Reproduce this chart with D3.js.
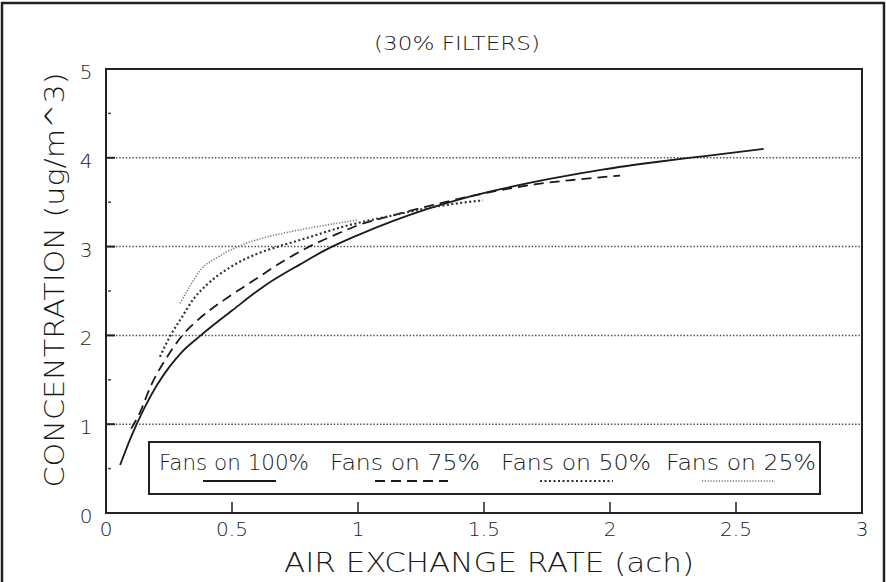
<!DOCTYPE html>
<html>
<head>
<meta charset="utf-8">
<script src="https://cdn.jsdelivr.net/npm/d3@7"></script>
<style>
  body { margin: 0; background: #fff; }
  text { font-family: "DejaVu Sans", sans-serif; font-weight: 200; fill: #1a1a1a; }
</style>
</head>
<body>
<script>
// tick values
var xTicks = [0, 0.5, 1, 1.5, 2, 2.5, 3];
var yTicks = [0, 1, 2, 3, 4, 5];
var yGrid = [1, 2, 3, 4];
var yMinor = [0.5, 1.5, 2.5, 3.5, 4.5];
var xInnerTicks = [0.5, 1, 1.5, 2, 2.5];

// series
var seriesNames = ["Fans on 100%", "Fans on 75%", "Fans on 50%", "Fans on 25%"];

var fans100X = [0.056, 0.1, 0.15, 0.2, 0.25, 0.3, 0.376, 0.45, 0.5, 0.63, 0.77, 0.87, 1.0, 1.14, 1.27, 1.4, 1.54, 1.776, 1.976, 2.176, 2.376, 2.61];
var fans100Y = [0.54, 0.86, 1.17, 1.43, 1.64, 1.81, 2.0, 2.17, 2.28, 2.56, 2.8, 2.96, 3.13, 3.29, 3.42, 3.53, 3.63, 3.77, 3.87, 3.95, 4.02, 4.10];

var fans75X = [0.10, 0.136, 0.176, 0.243, 0.303, 0.363, 0.469, 0.576, 0.7, 0.8, 0.923, 1.0, 1.136, 1.3, 1.5, 1.7, 1.85, 2.04];
var fans75Y = [0.95, 1.14, 1.42, 1.76, 2.0, 2.17, 2.4, 2.6, 2.83, 2.99, 3.15, 3.24, 3.35, 3.47, 3.6, 3.7, 3.75, 3.80];

var fans50X = [0.214, 0.256, 0.3, 0.35, 0.4, 0.5, 0.6, 0.683, 0.8, 0.936, 1.136, 1.27, 1.376, 1.496];
var fans50Y = [1.76, 2.0, 2.2, 2.42, 2.57, 2.78, 2.92, 3.0, 3.1, 3.22, 3.35, 3.43, 3.48, 3.52];

var fans25X = [0.294, 0.336, 0.376, 0.443, 0.5, 0.603, 0.736, 0.869, 1.0];
var fans25Y = [2.36, 2.57, 2.74, 2.88, 2.97, 3.08, 3.17, 3.24, 3.3];

var W = 886, H = 582;
var svg = d3.select("body").append("svg")
    .attr("width", W)
    .attr("height", H);

// outer frame (top, left, right)
svg.append("path")
    .attr("d", "M2,582 V3 H884 V582")
    .attr("fill", "none")
    .attr("stroke", "#222")
    .attr("stroke-width", 2.5);

var x = d3.scaleLinear().domain([0, 3]).range([106, 862]);
var y = d3.scaleLinear().domain([0, 5]).range([513, 69]);

// title
svg.append("text")
    .attr("x", 457)
    .attr("y", 50)
    .attr("text-anchor", "middle")
    .attr("textLength", 166)
    .attr("lengthAdjust", "spacingAndGlyphs")
    .style("font-size", "19px")
    .text("(30% FILTERS)");

// dotted grid lines
svg.append("g").selectAll("line")
    .data(yGrid)
    .enter()
    .append("line")
    .attr("x1", x(0))
    .attr("x2", x(3))
    .attr("y1", function (d) { return y(d); })
    .attr("y2", function (d) { return y(d); })
    .attr("stroke", "#555")
    .attr("stroke-width", 1.5)
    .attr("stroke-dasharray", "1.5,1.8");

// short solid ticks on left of each grid line
svg.append("g").selectAll("line")
    .data(yGrid)
    .enter()
    .append("line")
    .attr("x1", x(0))
    .attr("x2", x(0) + 9)
    .attr("y1", function (d) { return y(d); })
    .attr("y2", function (d) { return y(d); })
    .attr("stroke", "#222")
    .attr("stroke-width", 2);

// minor y ticks (little dots)
svg.append("g").selectAll("line")
    .data(yMinor)
    .enter()
    .append("line")
    .attr("x1", x(0) + 2)
    .attr("x2", x(0) + 5)
    .attr("y1", function (d) { return y(d); })
    .attr("y2", function (d) { return y(d); })
    .attr("stroke", "#444")
    .attr("stroke-width", 1.5);

// x ticks pointing up from the bottom
svg.append("g").selectAll("line")
    .data(xInnerTicks)
    .enter()
    .append("line")
    .attr("x1", function (d) { return x(d); })
    .attr("x2", function (d) { return x(d); })
    .attr("y1", y(0))
    .attr("y2", y(0) - 11)
    .attr("stroke", "#222")
    .attr("stroke-width", 1.5);

// plot frame
svg.append("rect")
    .attr("x", x(0))
    .attr("y", y(5))
    .attr("width", x(3) - x(0))
    .attr("height", y(0) - y(5))
    .attr("fill", "none")
    .attr("stroke", "#222")
    .attr("stroke-width", 2);

// tick labels
svg.append("g").selectAll("text")
    .data(xTicks)
    .enter()
    .append("text")
    .attr("x", function (d) { return x(d); })
    .attr("y", 536)
    .attr("text-anchor", "middle")
    .style("font-size", "20px")
    .text(function (d) { return d; });

svg.append("g").selectAll("text")
    .data(yTicks)
    .enter()
    .append("text")
    .attr("x", 86)
    .attr("y", function (d) { return y(d) + 10; })
    .attr("text-anchor", "middle")
    .style("font-size", "20px")
    .text(function (d) { return d; });

// axis titles
svg.append("text")
    .attr("x", 489)
    .attr("y", 572)
    .attr("text-anchor", "middle")
    .attr("textLength", 410)
    .attr("lengthAdjust", "spacingAndGlyphs")
    .style("font-size", "26px")
    .text("AIR EXCHANGE RATE (ach)");

svg.append("text")
    .attr("transform", "translate(64,280) rotate(-90)")
    .attr("text-anchor", "middle")
    .attr("textLength", 415)
    .attr("lengthAdjust", "spacingAndGlyphs")
    .style("font-size", "26px")
    .text("CONCENTRATION (ug/m^3)");

// curves
var styles = [
    { stroke: "#1a1a1a", width: 1.8, dash: null },
    { stroke: "#1a1a1a", width: 1.8, dash: "10,6" },
    { stroke: "#333", width: 2.2, dash: "2,2.5" },
    { stroke: "#777", width: 1.6, dash: "1.2,1.6" }
];
var seriesX = [fans100X, fans75X, fans50X, fans25X];
var seriesY = [fans100Y, fans75Y, fans50Y, fans25Y];

var line = d3.line()
    .x(function (d) { return x(d[0]); })
    .y(function (d) { return y(d[1]); })
    .curve(d3.curveMonotoneX);

seriesX.forEach(function (xs, i) {
    var pts = xs.map(function (v, j) { return [v, seriesY[i][j]]; });
    svg.append("path")
        .datum(pts)
        .attr("d", line)
        .attr("fill", "none")
        .attr("stroke", styles[i].stroke)
        .attr("stroke-width", styles[i].width)
        .attr("stroke-dasharray", styles[i].dash);
});

// legend
var legend = svg.append("g");
legend.append("rect")
    .attr("x", 149)
    .attr("y", 442)
    .attr("width", 671)
    .attr("height", 52)
    .attr("fill", "#fff")
    .attr("stroke", "#222")
    .attr("stroke-width", 2);

var textStart = [159, 330, 501, 666];
var sampleX = [203, 375, 540, 702];

seriesNames.forEach(function (name, i) {
    legend.append("text")
        .attr("x", textStart[i])
        .attr("y", 470)
        .attr("textLength", 150)
        .attr("lengthAdjust", "spacingAndGlyphs")
        .style("font-size", "21px")
        .text(name);
    legend.append("line")
        .attr("x1", sampleX[i])
        .attr("x2", sampleX[i] + 73)
        .attr("y1", 481)
        .attr("y2", 481)
        .attr("stroke", styles[i].stroke)
        .attr("stroke-width", styles[i].width)
        .attr("stroke-dasharray", styles[i].dash);
});
</script>
</body>
</html>
